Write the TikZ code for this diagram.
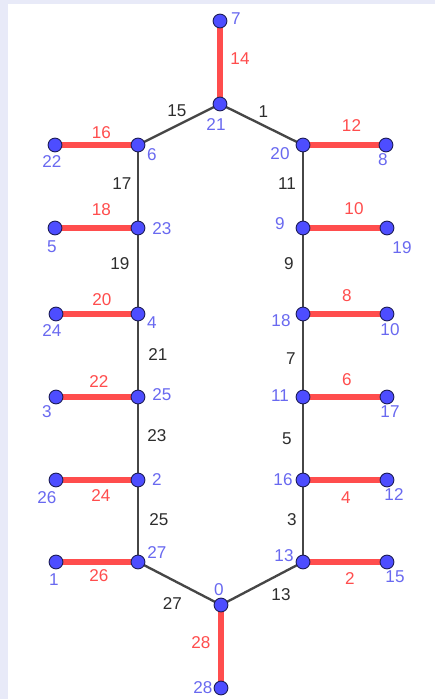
\documentclass[tikz,border=0pt]{standalone}
\usepackage{fontspec}
\setmainfont{Liberation Sans}
\usepackage{xcolor}
\usepackage{tikz}
\usetikzlibrary{calc,backgrounds}

\definecolor{edgered}{RGB}{255,77,77}
\definecolor{vtxblue}{RGB}{77,77,255}
\definecolor{vtxline}{RGB}{30,30,90}
\definecolor{numblue}{RGB}{105,105,240}
\definecolor{edgegray}{RGB}{70,70,70}
\definecolor{numgray}{RGB}{45,45,45}
\definecolor{paper}{RGB}{232,234,248}

\begin{document}
\begin{tikzpicture}[x=0.03cm, y=-0.03cm,
    every node/.style={font=\fontsize{14.6}{17}\selectfont},
    dot/.style={circle, draw=vtxline, fill=vtxblue, line width=0.8pt, inner sep=0pt, minimum size=11.8pt},
    lab/.style={text=numblue, inner sep=0pt},
    redge/.style={edgered, line width=5.6pt},
    gedge/.style={edgegray, line width=2pt},
    rnum/.style={text=edgered, inner sep=0pt},
    gnum/.style={text=numgray, inner sep=0pt}
]
\useasboundingbox (0,0) rectangle (435,699);

% Vertices
\node[dot] (v7)  at (220,21)  {};
\node[dot] (v21) at (220,104) {};
\node[dot] (v6)  at (138,145) {};
\node[dot] (v22) at (55,145)  {};
\node[dot] (v20) at (303,145) {};
\node[dot] (v8)  at (386,145) {};
\node[dot] (v23) at (138,228) {};
\node[dot] (v5)  at (55,228)  {};
\node[dot] (v9)  at (303,228) {};
\node[dot] (v19) at (387,228) {};
\node[dot] (v4)  at (138,314) {};
\node[dot] (v24) at (56,314)  {};
\node[dot] (v18) at (303,314) {};
\node[dot] (v10) at (387,314) {};
\node[dot] (v25) at (138,397) {};
\node[dot] (v3)  at (56,397)  {};
\node[dot] (v11) at (303,397) {};
\node[dot] (v17) at (387,397) {};
\node[dot] (v2)  at (138,480) {};
\node[dot] (v26) at (56,480)  {};
\node[dot] (v16) at (303,480) {};
\node[dot] (v12) at (387,480) {};
\node[dot] (v27) at (138,562) {};
\node[dot] (v1)  at (56,562)  {};
\node[dot] (v13) at (303,562) {};
\node[dot] (v15) at (387,562) {};
\node[dot] (v0)  at (221,605) {};
\node[dot] (v28) at (221,688) {};

% Vertex numbers
\node[lab] (n7)  at ($(v7)+(16,-2)$)   {7};
\node[lab] (n21) at ($(v21)+(-4,21)$)  {21};
\node[lab] (n6)  at ($(v6)+(14,10)$)   {6};
\node[lab] (n22) at ($(v22)+(-3,17)$)  {22};
\node[lab] (n20) at ($(v20)+(-23,9)$)  {20};
\node[lab] (n8)  at ($(v8)+(-3,15)$)   {8};
\node[lab] (n23) at ($(v23)+(24,1)$)   {23};
\node[lab] (n5)  at ($(v5)+(-3,19)$)   {5};
\node[lab] (n9)  at ($(v9)+(-23,-4)$)  {9};
\node[lab] (n19) at ($(v19)+(15,20)$)  {19};
\node[lab] (n4)  at ($(v4)+(14,9)$)    {4};
\node[lab] (n24) at ($(v24)+(-4,17)$)  {24};
\node[lab] (n18) at ($(v18)+(-22,7)$)  {18};
\node[lab] (n10) at ($(v10)+(3,16)$)   {10};
\node[lab] (n25) at ($(v25)+(24,-2)$)  {25};
\node[lab] (n3)  at ($(v3)+(-9,15)$)   {3};
\node[lab] (n11) at ($(v11)+(-23,-1)$) {11};
\node[lab] (n17) at ($(v17)+(3,15)$)   {17};
\node[lab] (n2)  at ($(v2)+(19,0)$)    {2};
\node[lab] (n26) at ($(v26)+(-9,18)$)  {26};
\node[lab] (n16) at ($(v16)+(-20,0)$)  {16};
\node[lab] (n12) at ($(v12)+(7,15)$)   {12};
\node[lab] (n27) at ($(v27)+(19,-9)$)  {27};
\node[lab] (n1)  at ($(v1)+(-2,18)$)   {1};
\node[lab] (n13) at ($(v13)+(-19,-6)$) {13};
\node[lab] (n15) at ($(v15)+(8,15)$)   {15};
\node[lab] (n0)  at ($(v0)+(-2,-15)$)  {0};
\node[lab] (n28) at ($(v28)+(-18,0)$)  {28};

\begin{pgfonlayer}{background}
% Paper
\fill[paper] (0,0) rectangle (435,699);
\fill[white] (8,4) rectangle (435,699);

% Red edges
\draw[redge] (v7.center)  -- node[rnum, shift={(20,-4)}] (e14) {14} (v21.center);
\draw[redge] (v22.center) -- node[rnum, shift={(5,-12)}] (e16) {16} (v6.center);
\draw[redge] (v20.center) -- node[rnum, shift={(7,-19)}] (e12) {12} (v8.center);
\draw[redge] (v5.center)  -- node[rnum, shift={(5,-18)}] (e18) {18} (v23.center);
\draw[redge] (v9.center)  -- node[rnum, shift={(9,-19)}] (e10) {10} (v19.center);
\draw[redge] (v24.center) -- node[rnum, shift={(5,-14)}] (e20) {20} (v4.center);
\draw[redge] (v18.center) -- node[rnum, shift={(2,-18)}] (e8) {8} (v10.center);
\draw[redge] (v3.center)  -- node[rnum, shift={(2,-15)}] (e22) {22} (v25.center);
\draw[redge] (v11.center) -- node[rnum, shift={(2,-17)}] (e6) {6} (v17.center);
\draw[redge] (v26.center) -- node[rnum, shift={(4,16)}] (e24) {24} (v2.center);
\draw[redge] (v16.center) -- node[rnum, shift={(1,18)}] (e4) {4} (v12.center);
\draw[redge] (v1.center)  -- node[rnum, shift={(2,14)}] (e26) {26} (v27.center);
\draw[redge] (v13.center) -- node[rnum, shift={(5,17)}] (e2) {2} (v15.center);
\draw[redge] (v0.center)  -- node[rnum, shift={(-20,-4)}] (e28) {28} (v28.center);

% Gray edges
\draw[gedge] (v21.center) -- node[gnum, shift={(-2,-14)}] (e15) {15} (v6.center);
\draw[gedge] (v21.center) -- node[gnum, shift={(2,-13)}] (e1) {1} (v20.center);
\draw[gedge] (v6.center)  -- node[gnum, shift={(-16,-3)}] (e17) {17} (v23.center);
\draw[gedge] (v20.center) -- node[gnum, shift={(-16,-3)}] (e11) {11} (v9.center);
\draw[gedge] (v23.center) -- node[gnum, shift={(-18,-7)}] (e19) {19} (v4.center);
\draw[gedge] (v9.center)  -- node[gnum, shift={(-14,-7)}] (e9) {9} (v18.center);
\draw[gedge] (v4.center)  -- node[gnum, shift={(20,-1)}] (e21) {21} (v25.center);
\draw[gedge] (v18.center) -- node[gnum, shift={(-12,3)}] (e7) {7} (v11.center);
\draw[gedge] (v25.center) -- node[gnum, shift={(19,-3)}] (e23) {23} (v2.center);
\draw[gedge] (v11.center) -- node[gnum, shift={(-16,0)}] (e5) {5} (v16.center);
\draw[gedge] (v2.center)  -- node[gnum, shift={(21,-1)}] (e25) {25} (v27.center);
\draw[gedge] (v16.center) -- node[gnum, shift={(-11,-1)}] (e3) {3} (v13.center);
\draw[gedge] (v27.center) -- node[gnum, shift={(-7,20)}] (e27) {27} (v0.center);
\draw[gedge] (v0.center)  -- node[gnum, shift={(19,11)}] (e13) {13} (v13.center);
\end{pgfonlayer}

\end{tikzpicture}
\end{document}
